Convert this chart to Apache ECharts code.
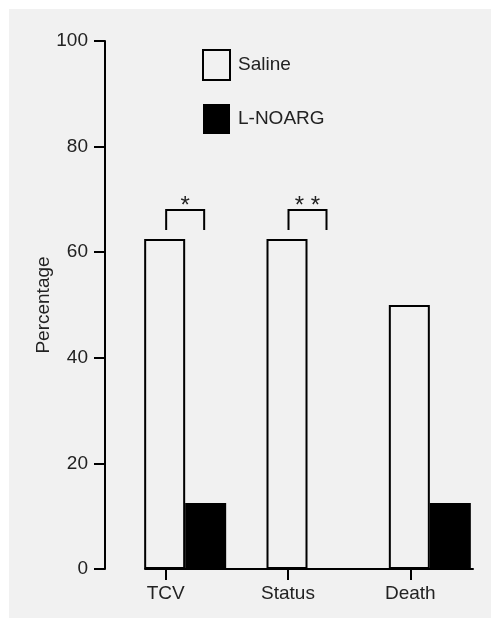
<!DOCTYPE html>
<html>
<head>
<meta charset="utf-8">
<script src="https://cdn.jsdelivr.net/npm/echarts@6/dist/echarts.min.js"></script>
<style>
  html, body { margin: 0; padding: 0; background: #ffffff; }
  #panel { position: absolute; left: 9px; top: 9px; width: 482px; height: 609px; background: #f1f1f1; }
  #chart { position: absolute; left: 0; top: 0; width: 491px; height: 619px; }
</style>
</head>
<body>
<div id="panel"></div>
<div id="chart"></div>
<script>
// ---- data ----
const categories = ['TCV', 'Status', 'Death'];
const salineValues = [62.5, 62.5, 50];
const lnoargValues = [12.5, 0, 12.5];
const seriesNames = ['Saline', 'L-NOARG'];
const yTicks = [0, 20, 40, 60, 80, 100];
const bracketCats = ['TCV', 'Status'];
const bracketLow = [64.2, 64.2];
const bracketHigh = [68, 68];
const bracketLabels = ['*', '* *'];
const yAxisName = 'Percentage';

// ---- style ----
const BG = '#f1f1f1';
const INK = '#000000';
const TXT = '#222222';
const FONT = "'Liberation Sans', Arial, sans-serif";
const FS = 19;
const BAR_W = 41;

const chart = echarts.init(document.getElementById('chart'), null, { renderer: 'canvas' });

const bracketData = bracketCats.map((c, i) => [c, bracketLow[i], bracketHigh[i], bracketLabels[i]]);

const option = {
  backgroundColor: 'transparent',
  animation: false,
  textStyle: { fontFamily: FONT },
  legend: {
    data: seriesNames,
    orient: 'vertical',
    left: 197,
    top: 44,
    itemWidth: 27,
    itemHeight: 30,
    itemGap: 23,
    icon: 'rect',
    selectedMode: false,
    textStyle: { fontSize: FS, color: TXT, fontFamily: FONT, padding: [0, 0, 0, 3] }
  },
  grid: [
    { left: 124, right: 0, top: 41, bottom: 50 },
    { left: 104.5, right: 19.5, top: 41, bottom: 50 },
    { left: 145, right: 18, top: 41, bottom: 50 }
  ],
  xAxis: [
    { gridIndex: 0, type: 'category', data: categories, axisLine: { show: false }, axisTick: { show: false }, axisLabel: { show: false } },
    { gridIndex: 1, type: 'category', data: categories,
      axisLine: { show: false },
      axisTick: { show: true, alignWithLabel: true, length: 11, lineStyle: { color: INK, width: 2 } },
      axisLabel: { fontSize: FS, color: TXT, margin: 15, fontFamily: FONT } },
    { gridIndex: 2, type: 'value', min: 0, max: 1,
      axisLine: { show: true, lineStyle: { color: INK, width: 2 } },
      axisTick: { show: false }, axisLabel: { show: false }, splitLine: { show: false } }
  ],
  yAxis: [
    { gridIndex: 0, type: 'value', min: yTicks[0], max: yTicks[yTicks.length - 1], interval: 20,
      offset: 19,
      name: yAxisName, nameLocation: 'middle', nameRotate: 90, nameGap: 52, nameMoveOverlap: false,
      nameTextStyle: { fontSize: FS, color: TXT, fontFamily: FONT },
      axisLine: { show: true, lineStyle: { color: INK, width: 2 } },
      axisTick: { show: true, length: 11, lineStyle: { color: INK, width: 2 } },
      axisLabel: { fontSize: FS, color: TXT, margin: 17, fontFamily: FONT },
      splitLine: { show: false } },
    { gridIndex: 1, type: 'value', min: 0, max: 100, show: false },
    { gridIndex: 2, type: 'value', min: 0, max: 100, show: false }
  ],
  series: [
    { name: seriesNames[0], type: 'bar', xAxisIndex: 0, yAxisIndex: 0,
      data: salineValues, barWidth: BAR_W, barGap: '0%',
      itemStyle: { color: BG, borderColor: INK, borderWidth: 2 } },
    { name: seriesNames[1], type: 'bar', xAxisIndex: 0, yAxisIndex: 0,
      data: lnoargValues, barWidth: BAR_W, barGap: '0%',
      itemStyle: { color: INK, borderColor: INK, borderWidth: 0 } },
    { type: 'custom', xAxisIndex: 0, yAxisIndex: 0, data: bracketData, silent: true, z: 5,
      renderItem: function (params, api) {
        const lo = api.coord([api.value(0), api.value(1)]);
        const hi = api.coord([api.value(0), api.value(2)]);
        const cx = lo[0];
        const xl = cx - 19, xr = cx + 19;
        return {
          type: 'group',
          children: [
            { type: 'polyline', shape: { points: [[xl, lo[1]], [xl, hi[1]], [xr, hi[1]], [xr, lo[1]]] },
              style: { stroke: INK, lineWidth: 2, fill: null } },
            { type: 'text', style: { text: api.value(3), x: cx, y: hi[1] - 4, align: 'center', verticalAlign: 'middle',
              fontSize: 24, fill: TXT, fontFamily: FONT } }
          ]
        };
      }
    }
  ]
};
chart.setOption(option);
</script>
</body>
</html>
